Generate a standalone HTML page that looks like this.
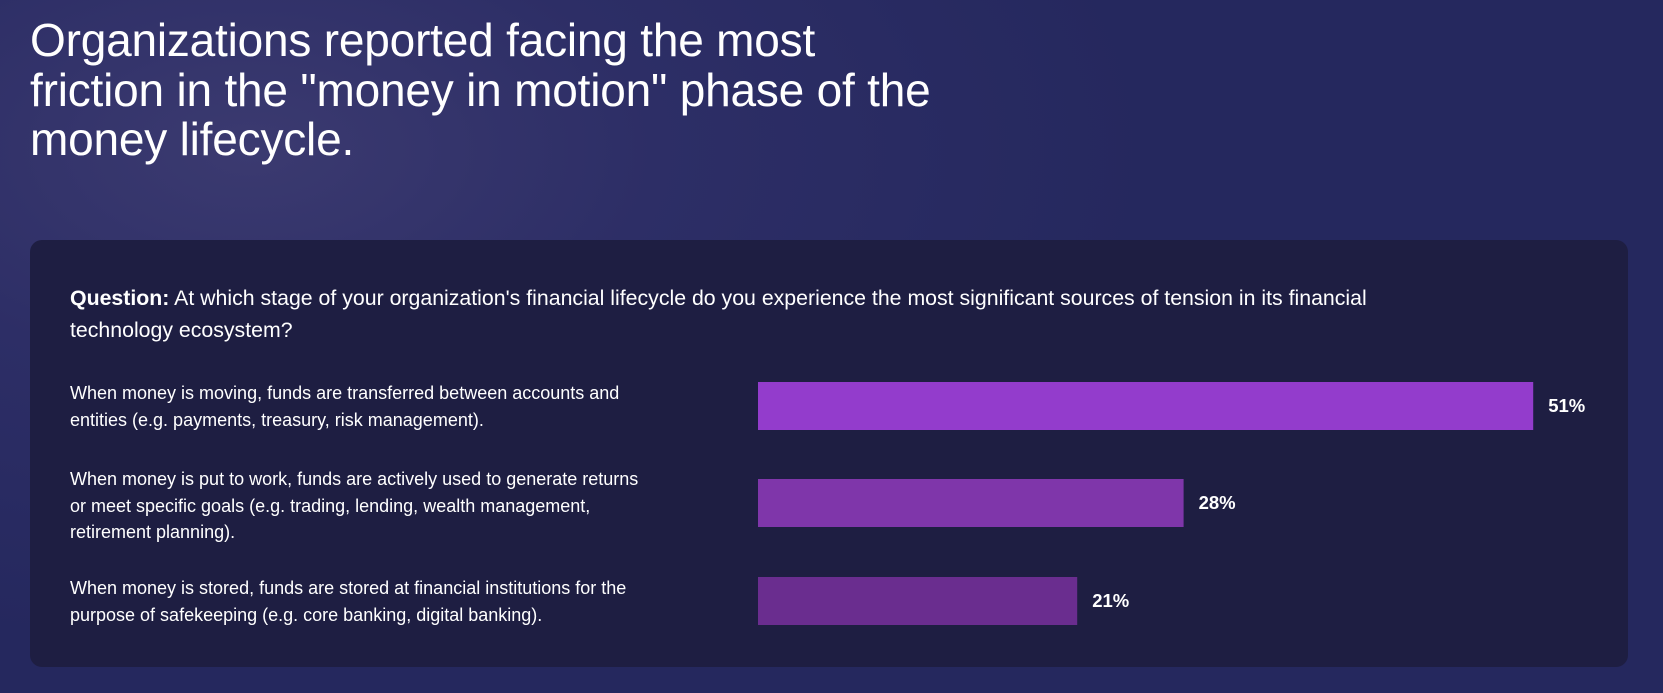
<!DOCTYPE html>
<html><head><meta charset="utf-8"><style>
body{margin:0;width:1663px;height:693px;overflow:hidden;font-family:"Liberation Sans",sans-serif;color:#fff;
background:radial-gradient(ellipse 900px 500px at 250px 150px,#3b3a70 0%,#2d2e66 45%,#25285e 100%);}
#title{position:absolute;left:30px;top:16px;font-size:46px;line-height:49.5px;font-weight:normal;margin:0;white-space:nowrap;letter-spacing:-0.2px}
#card{position:absolute;left:30px;top:240px;width:1598px;height:427px;background:#1e1e42;border-radius:12px}
#q{position:absolute;left:40px;top:42px;font-size:21.3px;line-height:32px;white-space:nowrap}
.lab{position:absolute;left:40px;font-size:18px;line-height:26.5px;white-space:nowrap}
</style></head><body>
<h1 id="title">Organizations reported facing the most<br>friction in the "money in motion" phase of the<br>money lifecycle.</h1>
<div id="card">
<div id="q"><b>Question:</b> At which stage of your organization's financial lifecycle do you experience the most significant sources of tension in its financial<br>technology ecosystem?</div>
<div class="lab" style="top:140px">When money is moving, funds are transferred between accounts and<br>entities (e.g. payments, treasury, risk management).</div>
<div class="lab" style="top:226px">When money is put to work, funds are actively used to generate returns<br>or meet specific goals (e.g. trading, lending, wealth management,<br>retirement planning).</div>
<div class="lab" style="top:335px">When money is stored, funds are stored at financial institutions for the<br>purpose of safekeeping (e.g. core banking, digital banking).</div>
</div>
<svg id="chart" width="1663" height="693" style="position:absolute;left:0;top:0"></svg>
<script>
const categories=["Money moving","Money put to work","Money stored"];
const values=[51,28,21];
const valueLabels=["51%","28%","21%"];
const colors=["#933ccc","#7f36aa","#6a2d8f"];
const x0=758, pxPerPct=15.2;
function xScale(v){return v*pxPerPct;}
const rowTops=[382,479,577], barH=48;
const svg=document.getElementById('chart');
const NS="http://www.w3.org/2000/svg";
values.forEach((v,i)=>{
  const r=document.createElementNS(NS,'rect');
  r.setAttribute('x',x0);r.setAttribute('y',rowTops[i]);
  r.setAttribute('width',xScale(v));r.setAttribute('height',barH);
  r.setAttribute('fill',colors[i]);
  
  
  svg.appendChild(r);
  const t=document.createElementNS(NS,'text');
  t.setAttribute('x',x0+xScale(v)+15);t.setAttribute('y',rowTops[i]+barH/2+6);
  t.setAttribute('fill','#fff');t.setAttribute('font-size','18.5');t.setAttribute('font-weight','bold');
  t.setAttribute('font-family','Liberation Sans, sans-serif');
  t.textContent=valueLabels[i];
  
  
  svg.appendChild(t);
});
</script>
</body></html>
